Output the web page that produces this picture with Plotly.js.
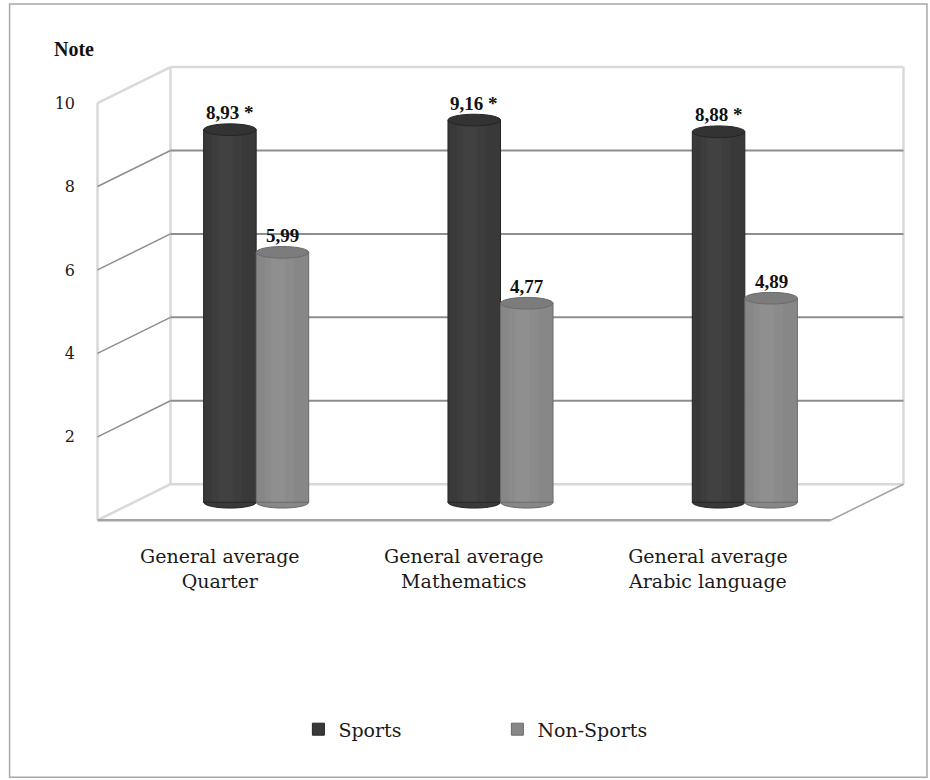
<!DOCTYPE html>
<html><head><meta charset="utf-8">
<script src="https://cdn.plot.ly/plotly-3.0.1.min.js"></script>
<style>html,body{margin:0;padding:0;background:#fff;} #chart{width:930px;height:780px;}</style>
</head><body><div id="chart"></div>
<script>
// ---------- data ----------
const categories = ["General average<br>Quarter", "General average<br>Mathematics", "General average<br>Arabic language"];
const seriesNames = ["Sports", "Non-Sports"];
const sportsValues = [8.93, 9.16, 8.88];
const nonSportsValues = [5.99, 4.77, 4.89];
const sportsMarks = [" *", " *", " *"];
const nonSportsMarks = ["", "", ""];
const yTickValues = [2, 4, 6, 8, 10];
const yTickLabels = ["2", "4", "6", "8", "10"];
const yAxisNote = "Note";

// ---------- geometry / style ----------
const W = 930, H = 780;
const L = 133.5, R = 867;          // mid-depth plane x extent (px)
const yMin = -0.45, yMax = 10.001;
const zeroPx = 502, pxPerUnit = 41.7;
const T = zeroPx - yMax * pxPerUnit;
const B = zeroPx - yMin * pxPerUnit;
const plotW = R - L, plotH = B - T;
const DX = 36.5, DY = 18;           // half depth offset (px)
const px2pX = p => (p - L) / plotW;
const px2pY = p => (B - p) / plotH;
const valPx = v => zeroPx - v * pxPerUnit;
const frontY = v => valPx(v) + DY, backY = v => valPx(v) - DY;
const FL = L - DX, FR = R - DX, BL = L + DX, BR = R + DX;

const barW = 0.215;
const capH = 0.14;
const colDark = "#393939", colLight = "#878787";
const edgeDark = "#242424", edgeLight = "#6a6a6a";
const capDark = "#333333", capLight = "#7c7c7c";
const wallCol = "#d9d9d9", gridCol = "#8e8e8e", floorEdge = "#a3a3a3";
const serif = "DejaVu Serif, serif";
const timesFont = "Liberation Serif, Times New Roman, serif";

function seg(x0, y0, x1, y1, color, width) {
  return {type: "line", xref: "paper", yref: "paper", layer: "below",
    x0: px2pX(x0), y0: px2pY(y0), x1: px2pX(x1), y1: px2pY(y1),
    line: {color: color, width: width}};
}

const shapes = [];
// outer chart border
shapes.push({type: "rect", xref: "paper", yref: "paper", layer: "below",
  x0: px2pX(9), x1: px2pX(927), y0: px2pY(4), y1: px2pY(777),
  line: {color: "#a8a8a8", width: 1.5}, fillcolor: "rgba(0,0,0,0)"});
// walls
shapes.push(seg(BL, backY(10), BR, backY(10), wallCol, 2.5));
shapes.push(seg(BR, backY(10), BR, backY(0), wallCol, 2.5));
shapes.push(seg(BL, backY(10), BL, backY(0), wallCol, 2.5));
shapes.push(seg(BL, backY(0), BR, backY(0), wallCol, 2.5));
shapes.push(seg(FL, frontY(10), FL, frontY(0), wallCol, 2.5));
shapes.push(seg(FL, frontY(10), BL, backY(10), wallCol, 2.5));
shapes.push(seg(FL, frontY(0), BL, backY(0), wallCol, 2.5));
// gridlines
yTickValues.filter(v => v < 10).forEach(v => {
  shapes.push(seg(BL, backY(v), BR, backY(v), gridCol, 2));
  shapes.push(seg(FL, frontY(v), BL, backY(v), gridCol, 1.5));
});
// floor edges
shapes.push(seg(FR, frontY(0), BR, backY(0), floorEdge, 1.5));
shapes.push(seg(FL, frontY(0), FR, frontY(0), floorEdge, 2.5));

// cylinder bottoms and caps
function addCyl(values, off, body, edge, cap) {
  values.forEach((v, i) => {
    shapes.push({type: "circle", xref: "x", yref: "y", layer: "below",
      x0: i + off, x1: i + off + barW, y0: -capH, y1: capH,
      fillcolor: body, line: {color: edge, width: 1}});
    shapes.push({type: "circle", xref: "x", yref: "y", layer: "above",
      x0: i + off, x1: i + off + barW, y0: v - capH, y1: v + capH,
      fillcolor: cap, line: {color: edge, width: 1}});
  });
}
addCyl(sportsValues, -barW, colDark, edgeDark, capDark);
addCyl(nonSportsValues, 0, colLight, edgeLight, capLight);

const xs = categories.map((c, i) => i);
function mainBar(name, values, off, color, edge) {
  return {type: "bar", name: name, x: xs, y: values, width: barW, offset: off,
    marker: {color: color, line: {color: edge, width: 1}}, hoverinfo: "skip"};
}
function shine(values, off, w, alpha) {
  return {type: "bar", x: xs, y: values, width: w, offset: off, showlegend: false,
    marker: {color: "rgba(255,255,255," + alpha + ")", line: {width: 0}}, hoverinfo: "skip"};
}
const traces = [
  mainBar(seriesNames[0], sportsValues, -barW, colDark, edgeDark),
  mainBar(seriesNames[1], nonSportsValues, 0, colLight, edgeLight),
  shine(sportsValues, -barW + 0.035, 0.12, 0.025),
  shine(sportsValues, -barW + 0.06, 0.06, 0.025),
  shine(nonSportsValues, 0.035, 0.12, 0.04),
  shine(nonSportsValues, 0.06, 0.06, 0.04)
];

const fmt = v => v.toFixed(2).replace(".", ",");
const annotations = [];
sportsValues.forEach((v, i) => annotations.push({xref: "x", yref: "y", x: i - barW / 2, y: v,
  yshift: 17, yanchor: "middle", showarrow: false, text: "<b>" + fmt(v) + sportsMarks[i] + "</b>",
  font: {family: timesFont, size: 19, color: "#111"}}));
nonSportsValues.forEach((v, i) => annotations.push({xref: "x", yref: "y", x: i + barW / 2, y: v,
  yshift: 17, yanchor: "middle", showarrow: false, text: "<b>" + fmt(v) + nonSportsMarks[i] + "</b>",
  font: {family: timesFont, size: 19, color: "#111"}}));
annotations.push({xref: "paper", yref: "paper", x: px2pX(73), y: px2pY(49),
  xanchor: "center", yanchor: "middle", showarrow: false, text: "<b>" + yAxisNote + "</b>",
  font: {family: timesFont, size: 20, color: "#111"}});
// category labels sit on the front plane of the 3-D box
categories.forEach((c, i) => annotations.push({xref: "x", yref: "paper", x: i, xshift: -DX,
  y: px2pY(568.5), yanchor: "middle", xanchor: "center", showarrow: false, text: c,
  font: {family: serif, size: 19, color: "#1a1a1a"}}));

const layout = {
  width: W, height: H,
  margin: {l: L, r: W - R, t: T, b: H - B, pad: 0},
  paper_bgcolor: "#ffffff", plot_bgcolor: "rgba(0,0,0,0)",
  barmode: "overlay",
  showlegend: true,
  xaxis: {range: [-0.5, 2.5], tickvals: xs, showticklabels: false,
    showgrid: false, zeroline: false, showline: false, ticks: "", fixedrange: true},
  yaxis: {range: [yMin, yMax], tickvals: yTickValues, ticktext: yTickLabels,
    showgrid: false, zeroline: false, showline: false, ticks: "",
    ticklabelshift: DY, ticklabelstandoff: 58,
    tickfont: {family: serif, size: 16, color: "#1a1a1a"}, fixedrange: true},
  legend: {orientation: "h", xref: "paper", yref: "paper",
    x: px2pX(298), y: px2pY(729), xanchor: "left", yanchor: "middle",
    entrywidth: 154, entrywidthmode: "pixels", traceorder: "normal",
    bgcolor: "rgba(0,0,0,0)", borderwidth: 0,
    font: {family: serif, size: 19, color: "#1a1a1a"}},
  shapes: shapes,
  annotations: annotations
};

Plotly.newPlot("chart", traces, layout, {displayModeBar: false, staticPlot: true});
</script>
</body></html>
